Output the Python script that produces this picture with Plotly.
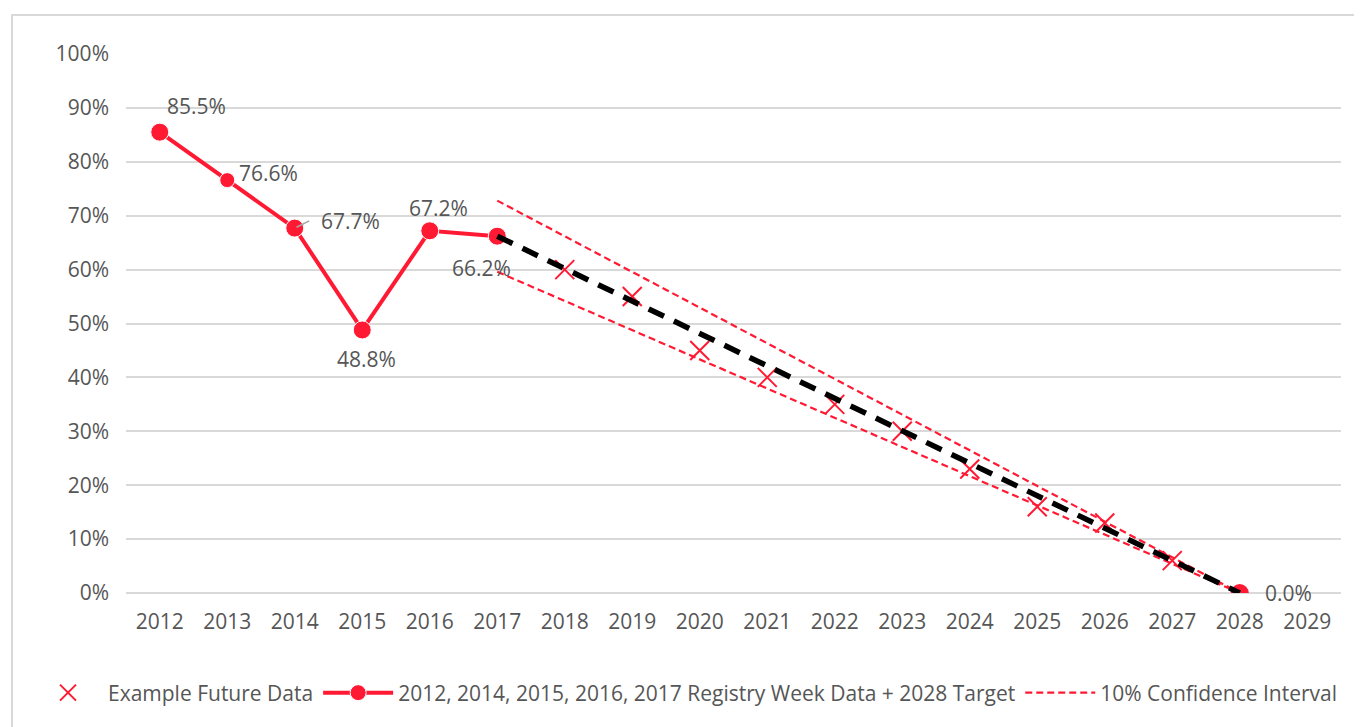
import plotly.graph_objects as go

years = list(range(2012, 2030))
tick_labels = [str(y) for y in years]

# Registry week data + 2028 target
actual_years = [2012, 2013, 2014, 2015, 2016, 2017, 2028]
actual_values = [85.5, 76.6, 67.7, 48.8, 67.2, 66.2, 0.0]

# Example future data
future_years = [2018, 2019, 2020, 2021, 2022, 2023, 2024, 2025, 2026, 2027]
future_values = [60, 55, 45, 40, 35, 30, 23, 16, 13, 6]

# Trend line from 2017 to 2028 target
trend_years = [2017, 2028]
trend_values = [66.2, 0.0]

# 10% confidence interval
ci_years = [2017, 2028]
ci_upper = [72.8, 0.0]
ci_lower = [59.6, 0.0]

RED = "#FF1933"
TXT = "#565656"
GRID = "#D9D9D9"
FONT = "Open Sans"
FS = 21

fig = go.Figure()

fig.add_trace(go.Scatter(
    x=future_years, y=future_values, mode="markers",
    name="Example Future Data",
    marker=dict(symbol="x-thin-open", size=19, color=RED, opacity=1,
                line=dict(width=2, color=RED)),
))

sizes = [18, 15, 18, 18, 18, 18]
fig.add_trace(go.Scatter(
    x=actual_years[:6], y=actual_values[:6], mode="lines+markers",
    name="2012, 2014, 2015, 2016, 2017 Registry Week Data + 2028 Target",
    line=dict(color=RED, width=4),
    marker=dict(size=sizes, color=RED, opacity=1),
))
fig.add_trace(go.Scatter(
    x=actual_years[6:], y=actual_values[6:], mode="markers",
    showlegend=False, marker=dict(size=18, color=RED, opacity=1),
))

fig.add_trace(go.Scatter(
    x=ci_years, y=ci_upper, mode="lines", name="10% Confidence Interval",
    line=dict(color=RED, width=2.2, dash="7px,4px"),
))
fig.add_trace(go.Scatter(
    x=ci_years, y=ci_lower, mode="lines", showlegend=False,
    line=dict(color=RED, width=2.2, dash="7px,4px"),
))

fig.add_trace(go.Scatter(
    x=trend_years, y=trend_values, mode="lines", showlegend=False,
    line=dict(color="black", width=5.5, dash="17px,11px"),
))

offsets = [(37, 26), (41, 7), (56, 7), (4, -29), (9, 23), (-16, -32), (49, 0)]
for (xv, yv), (dx, dy) in zip(zip(actual_years, actual_values), offsets):
    fig.add_annotation(x=xv, y=yv, text=f"{yv:.1f}%", showarrow=False,
                       xshift=dx, yshift=dy, font=dict(family=FONT, size=FS, color=TXT))

fig.add_annotation(x=2014, y=67.7, ax=16, ay=-8, axref="pixel", ayref="pixel",
                   showarrow=True, arrowhead=0, arrowwidth=1.5, arrowcolor="#A6A6A6",
                   text="", standoff=2)

px_w = 1215.0
px_h = 539.0
fig.add_shape(type="rect", xref="paper", yref="paper",
              x0=(12 - 126) / px_w, x1=1.2, y0=-0.4, y1=(593 - 15) / px_h,
              line=dict(color=GRID, width=2), fillcolor="rgba(0,0,0,0)", layer="below")

fig.update_layout(
    width=1354, height=719,
    margin=dict(l=118, r=21, t=46, b=134),
    paper_bgcolor="white", plot_bgcolor="white",
    font=dict(family=FONT, size=FS, color=TXT),
    showlegend=True,
    legend=dict(orientation="h", x=(28 - 126) / px_w, xanchor="left",
                y=(593 - 693) / px_h, yanchor="middle",
                font=dict(family=FONT, size=FS, color=TXT), itemwidth=70,
                bgcolor="rgba(0,0,0,0)"),
    xaxis=dict(range=[2011.5, 2029.5], tickmode="array", tickvals=years, ticktext=tick_labels,
               showgrid=False, zeroline=False, showline=False, ticks="",
               ticklabelstandoff=14, tickfont=dict(family=FONT, size=FS, color=TXT)),
    yaxis=dict(range=[0, 100], dtick=10, ticksuffix="%", showgrid=True, gridcolor=GRID,
               gridwidth=1.5, zeroline=True, zerolinecolor=GRID, zerolinewidth=1.5,
               showline=False, ticks="", ticklabelstandoff=16,
               tickfont=dict(family=FONT, size=FS, color=TXT)),
)

fig.write_html("out.html")
